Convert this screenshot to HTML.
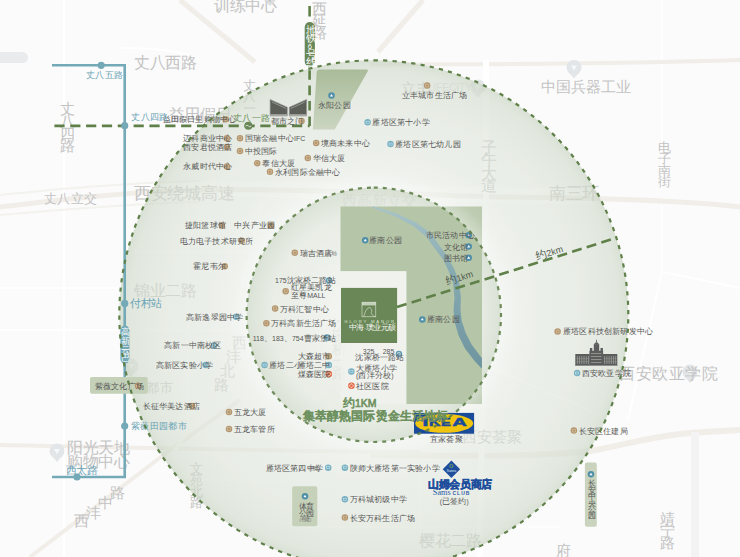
<!DOCTYPE html>
<html><head><meta charset="utf-8">
<style>
html,body{margin:0;padding:0;}
body{width:740px;height:557px;overflow:hidden;position:relative;background:#fbfbfb;font-family:"Liberation Sans",sans-serif;}
svg{position:absolute;left:0;top:0;}
.t{position:absolute;white-space:nowrap;}
.f{position:absolute;white-space:nowrap;color:#d6d6d6;}
</style></head>
<body>
<svg width="740" height="557" viewBox="0 0 740 557">
<rect width="740" height="557" fill="#fbfbfb"/>
<path d="M64 0 V557" fill="none" stroke="#ffffff" stroke-width="2"/>
<path d="M0 288 H120" fill="none" stroke="#ffffff" stroke-width="2"/>
<path d="M0 330 H118" fill="none" stroke="#ffffff" stroke-width="2"/>
<path d="M662 0 V190" fill="none" stroke="#ffffff" stroke-width="2"/>
<path d="M662 205 V272 L651 320 L628 420" fill="none" stroke="#ffffff" stroke-width="2"/>
<path d="M663 272 L740 288" fill="none" stroke="#ffffff" stroke-width="2"/>
<path d="M485 365 L600 415" fill="none" stroke="#ffffff" stroke-width="2"/>
<path d="M120 48 Q180 48 200 60" fill="none" stroke="#ffffff" stroke-width="2"/>
<path d="M140 191 C200 187 300 189 400 193 C480 195 560 196 594 197" fill="none" stroke="#ffffff" stroke-width="16" opacity="0.9"/>
<path d="M187.5 205 V440" fill="none" stroke="#ffffff" stroke-width="1.6"/>
<path d="M262 200 L231 335" fill="none" stroke="#ffffff" stroke-width="1.6"/>
<path d="M277 140 V175" fill="none" stroke="#ffffff" stroke-width="1.6"/>
<path d="M130 252 H250" fill="none" stroke="#ffffff" stroke-width="1.6"/>
<path d="M140 330 H245" fill="none" stroke="#ffffff" stroke-width="1.6"/>
<path d="M200 480 H300" fill="none" stroke="#ffffff" stroke-width="1.6"/>
<path d="M420 470 V530" fill="none" stroke="#ffffff" stroke-width="1.6"/>
<path d="M300 527 H560" fill="none" stroke="#ffffff" stroke-width="1.6"/>
<path d="M0 207 C60 200 120 192 200 190 C300 188 420 195 500 197 C600 198 680 200 740 207" fill="none" stroke="#f1eee9" stroke-width="5"/>
<path d="M0 195 C60 189 120 183 200 181" fill="none" stroke="#f4f2ee" stroke-width="2"/>
<path d="M0 215 C60 210 120 204 200 202" fill="none" stroke="#f4f2ee" stroke-width="2"/>
<path d="M370 64.5 C480 64 600 64.5 740 60" fill="none" stroke="#f1eee9" stroke-width="4"/>
<path d="M0 445 C60 446 110 447 150 448 C250 450 350 452 420 452" fill="none" stroke="#f1eee9" stroke-width="4"/>
<path d="M370 455 C450 456 540 457 590 451 C620 446 640 439 680 434 C700 432 720 431 740 430" fill="none" stroke="#f1eee9" stroke-width="6"/>
<path d="M486.5 200 L479.5 557" fill="none" stroke="#ffffff" stroke-width="6"/>
<path d="M695 432 V557" fill="none" stroke="#f3f3f3" stroke-width="8"/>
<path d="M30 557 L170 450 L240 400" fill="none" stroke="#f1eee9" stroke-width="4"/>
<path d="M180 0 L255 62" fill="none" stroke="#f1eee9" stroke-width="5"/>
<path d="M423 0 L378 52" fill="none" stroke="#f1eee9" stroke-width="5"/>
<path d="M228 372 L175 450" fill="none" stroke="#fbfbfa" stroke-width="4"/>
<path d="M486 60 V200" fill="none" stroke="#ffffff" stroke-width="6"/>
<circle cx="478" cy="87" r="7.5" fill="#e3e6e8"/><path d="M473.5 92.5 h9 l-4.5 5.5 z" fill="#e3e6e8"/>
<path d="M478 90 l-3 -5 h6 z" fill="#f7f8f9"/>
<circle cx="574" cy="67.6" r="7.5" fill="#e3e6e8"/><path d="M569.5 73.1 h9 l-4.5 5.5 z" fill="#e3e6e8"/>
<path d="M574 70.6 l-3 -5 h6 z" fill="#f7f8f9"/>
<circle cx="690" cy="372" r="7.5" fill="#e3e6e8"/><path d="M685.5 377.5 h9 l-4.5 5.5 z" fill="#e3e6e8"/>
<path d="M690 375 l-3 -5 h6 z" fill="#f7f8f9"/>
<circle cx="57" cy="451" r="7.5" fill="#e3e6e8"/><path d="M52.5 456.5 h9 l-4.5 5.5 z" fill="#e3e6e8"/>
<path d="M57 454 l-3 -5 h6 z" fill="#f7f8f9"/>
<circle cx="131" cy="366" r="7.5" fill="#e3e6e8"/><path d="M126.5 371.5 h9 l-4.5 5.5 z" fill="#e3e6e8"/>
<path d="M131 369 l-3 -5 h6 z" fill="#f7f8f9"/>
<rect x="-10" y="52" width="38" height="11" rx="5.5" fill="#e9ebec"/>
<path d="M264 0 H276 L270 6 Z" fill="#dcdee0"/>
</svg>
<div class="f" style="left:214px;top:-2px;font-size:16px;line-height:16px;color:#c3c3c3;letter-spacing:-0.5px;">训练中心</div>
<div class="f" style="left:134px;top:55px;font-size:16px;line-height:16px;color:#c3c3c3;letter-spacing:-0.5px;">丈八西路</div>
<div class="f" style="left:44px;top:192px;font-size:13.33px;line-height:13.33px;color:#c3c3c3;letter-spacing:0.3px;">丈八立交</div>
<div class="f" style="left:134px;top:185px;font-size:17.33px;line-height:17.33px;color:#c3c3c3;letter-spacing:-0.3px;">西安绕城高速</div>
<div class="f" style="left:134px;top:283px;font-size:16px;line-height:16px;color:#c3c3c3;letter-spacing:-0.3px;">锦业二路</div>
<div class="f" style="left:342px;top:194px;font-size:14.67px;line-height:14.67px;color:#c3c3c3;">西高新立交</div>
<div class="f" style="left:549px;top:185px;font-size:17.33px;line-height:17.33px;color:#c3c3c3;letter-spacing:-0.3px;">南三环</div>
<div class="f" style="left:401px;top:82px;font-size:14.67px;line-height:14.67px;color:#c3c3c3;">立丰</div>
<div class="f" style="left:428px;top:83px;font-size:10px;line-height:10px;color:#dadada">LIFECITY</div>
<div class="f" style="left:540.5px;top:80px;font-size:14.67px;line-height:14.67px;color:#c3c3c3;">中国兵器工业</div>
<div class="f" style="left:619px;top:366px;font-size:16px;line-height:16px;color:#c3c3c3;letter-spacing:0.5px;">西安欧亚学院</div>
<div class="f" style="left:67px;top:440px;font-size:16px;line-height:16px;color:#c3c3c3;letter-spacing:-0.5px;">阳光天地</div>
<div class="f" style="left:67px;top:454px;font-size:16px;line-height:16px;color:#c3c3c3;letter-spacing:-0.5px;">购物中心</div>
<div class="f" style="left:462px;top:430px;font-size:14.67px;line-height:14.67px;color:#c3c3c3;">西安荟聚</div>
<div class="f" style="left:419px;top:533px;font-size:16px;line-height:16px;color:#c3c3c3;letter-spacing:-0.5px;">樱花二路</div>
<div class="f" style="left:169px;top:107px;font-size:16px;line-height:16px;color:#c3c3c3;letter-spacing:-0.5px;">益田假日</div>
<div class="f" style="left:60px;top:102px;font-size:14.67px;line-height:14.67px;color:#c3c3c3;">丈</div>
<div class="f" style="left:60px;top:114px;font-size:14.67px;line-height:14.67px;color:#c3c3c3;">八</div>
<div class="f" style="left:60px;top:127px;font-size:14.67px;line-height:14.67px;color:#c3c3c3;">四</div>
<div class="f" style="left:60px;top:139px;font-size:14.67px;line-height:14.67px;color:#c3c3c3;">路</div>
<div class="f" style="left:481px;top:140px;font-size:16px;line-height:16px;color:#c3c3c3;">子</div>
<div class="f" style="left:481px;top:152px;font-size:16px;line-height:16px;color:#c3c3c3;">午</div>
<div class="f" style="left:481px;top:166px;font-size:16px;line-height:16px;color:#c3c3c3;">大</div>
<div class="f" style="left:481px;top:178px;font-size:16px;line-height:16px;color:#c3c3c3;">道</div>
<div class="f" style="left:658px;top:141px;font-size:13.33px;line-height:13.33px;color:#c3c3c3;">电</div>
<div class="f" style="left:658px;top:152px;font-size:13.33px;line-height:13.33px;color:#c3c3c3;">子</div>
<div class="f" style="left:658px;top:164px;font-size:13.33px;line-height:13.33px;color:#c3c3c3;">南</div>
<div class="f" style="left:658px;top:175px;font-size:13.33px;line-height:13.33px;color:#c3c3c3;">街</div>
<div class="f" style="left:332px;top:318px;font-size:14.67px;line-height:14.67px;color:#c3c3c3;">沈</div>
<div class="f" style="left:332px;top:330px;font-size:14.67px;line-height:14.67px;color:#c3c3c3;">家</div>
<div class="f" style="left:332px;top:342px;font-size:14.67px;line-height:14.67px;color:#c3c3c3;">桥</div>
<div class="f" style="left:332px;top:354px;font-size:14.67px;line-height:14.67px;color:#c3c3c3;">一</div>
<div class="f" style="left:332px;top:366px;font-size:14.67px;line-height:14.67px;color:#c3c3c3;">路</div>
<div class="f" style="left:190px;top:462px;font-size:13.33px;line-height:13.33px;color:#c3c3c3;">文</div>
<div class="f" style="left:190px;top:473px;font-size:13.33px;line-height:13.33px;color:#c3c3c3;">苑</div>
<div class="f" style="left:190px;top:485px;font-size:13.33px;line-height:13.33px;color:#c3c3c3;">北</div>
<div class="f" style="left:190px;top:496px;font-size:13.33px;line-height:13.33px;color:#c3c3c3;">路</div>
<div class="f" style="left:660px;top:512px;font-size:14.67px;line-height:14.67px;color:#c3c3c3;">靖</div>
<div class="f" style="left:660px;top:524px;font-size:14.67px;line-height:14.67px;color:#c3c3c3;">宁</div>
<div class="f" style="left:660px;top:536px;font-size:14.67px;line-height:14.67px;color:#c3c3c3;">路</div>
<div class="f" style="left:556px;top:544px;font-size:14.67px;line-height:14.67px;color:#c3c3c3;">府</div>
<div class="f" style="left:243px;top:79px;font-size:13.33px;line-height:13.33px;color:#c3c3c3;">丈</div>
<div class="f" style="left:243px;top:90px;font-size:13.33px;line-height:13.33px;color:#c3c3c3;">八</div>
<div class="f" style="left:243px;top:102px;font-size:13.33px;line-height:13.33px;color:#c3c3c3;">一</div>
<div class="f" style="left:232px;top:336px;font-size:14.67px;line-height:14.67px;color:#c3c3c3;">西</div>
<div class="f" style="left:226px;top:350px;font-size:14.67px;line-height:14.67px;color:#c3c3c3;">沣</div>
<div class="f" style="left:220px;top:364px;font-size:14.67px;line-height:14.67px;color:#c3c3c3;">北</div>
<div class="f" style="left:214px;top:378px;font-size:14.67px;line-height:14.67px;color:#c3c3c3;">路</div>
<div class="f" style="left:74px;top:514px;font-size:14.67px;line-height:14.67px;color:#c3c3c3;">西</div>
<div class="f" style="left:86px;top:506px;font-size:14.67px;line-height:14.67px;color:#c3c3c3;">沣</div>
<div class="f" style="left:98px;top:496px;font-size:14.67px;line-height:14.67px;color:#c3c3c3;">中</div>
<div class="f" style="left:110px;top:486px;font-size:14.67px;line-height:14.67px;color:#c3c3c3;">路</div>
<div class="f" style="left:146px;top:381px;font-size:13.33px;line-height:13.33px;color:#c3c3c3;letter-spacing:0.5px;">都市</div>
<div class="f" style="left:312px;top:2px;font-size:14.67px;line-height:14.67px;color:#c3c3c3;">西</div>
<div class="f" style="left:312px;top:14px;font-size:14.67px;line-height:14.67px;color:#c3c3c3;">延</div>
<div class="f" style="left:312px;top:26px;font-size:14.67px;line-height:14.67px;color:#c3c3c3;">路</div>
<svg width="740" height="557" viewBox="0 0 740 557">
<defs>
<radialGradient id="gO" cx="373.8" cy="314.8" r="254.5" gradientUnits="userSpaceOnUse">
<stop offset="0.5" stop-color="#e6ebe3" stop-opacity="0.6"/>
<stop offset="0.8" stop-color="#dde4d9" stop-opacity="0.6"/>
<stop offset="0.96" stop-color="#d3dcce" stop-opacity="0.64"/>
<stop offset="1" stop-color="#cad5c3" stop-opacity="0.7"/>
</radialGradient>
<radialGradient id="gI" cx="373.8" cy="314.8" r="127.2" gradientUnits="userSpaceOnUse">
<stop offset="0.3" stop-color="#f4f6f2" stop-opacity="0.5"/>
<stop offset="0.8" stop-color="#e3e9df" stop-opacity="0.5"/>
<stop offset="1" stop-color="#cfd9c9" stop-opacity="0.66"/>
</radialGradient>
<linearGradient id="gY" x1="0" y1="0" x2="0" y2="1">
<stop offset="0" stop-color="#a9bb99"/><stop offset="1" stop-color="#cbd5c1"/>
</linearGradient>
</defs>
<circle cx="373.8" cy="314.8" r="254.5" fill="url(#gO)"/>
<circle cx="373.8" cy="314.8" r="127.2" fill="url(#gI)"/>
<path d="M340.5 206.5 H482 V404 H406.3 V271.3 H340.5 Z" fill="#b5c5a8"/>
<rect x="340.5" y="271.3" width="65.8" height="132.7" fill="#f0f2ee" opacity="0.75"/>
<defs><linearGradient id="gR" x1="0" y1="206" x2="0" y2="366" gradientUnits="userSpaceOnUse"><stop offset="0" stop-color="#a9c4c7"/><stop offset="0.4" stop-color="#88abb2"/><stop offset="1" stop-color="#6f95a0"/></linearGradient><clipPath id="cpP"><rect x="340.5" y="206.5" width="141.5" height="197.5"/></clipPath></defs>
<path clip-path="url(#cpP)" d="M371.9 207.6 L396.0 216.8 L413.7 226.3 L426.6 237.2 L434.1 247.4 L443.1 259.5 L448.8 271.4 L453.1 283.1 L454.5 297.8 L453.5 310.0 L454.8 322.8 L458.7 335.7 L465.0 348.6 L474.6 361.1 L481.4 368.3 L486.6 363.7 L480.4 356.3 L471.6 344.4 L465.7 332.9 L461.8 321.2 L460.5 309.8 L460.9 297.6 L459.1 281.7 L454.2 269.0 L447.7 256.5 L438.5 244.2 L430.8 233.0 L416.1 222.5 L397.2 213.8 L372.5 205.8 Z" fill="url(#gR)"/>
<defs><radialGradient id="gG" cx="373.8" cy="314.8" r="254.5" gradientUnits="userSpaceOnUse"><stop offset="0.5" stop-color="#ffffff" stop-opacity="0.4"/><stop offset="0.56" stop-color="#ffffff" stop-opacity="0.12"/><stop offset="0.66" stop-color="#ffffff" stop-opacity="0"/></radialGradient></defs>
<path fill-rule="evenodd" fill="url(#gG)" d="M119.3 314.8 a254.5 254.5 0 1 0 509 0 a254.5 254.5 0 1 0 -509 0 Z M246.6 314.8 a127.2 127.2 0 1 0 254.4 0 a127.2 127.2 0 1 0 -254.4 0 Z"/>
<path d="M316.7 72 Q316.9 69.5 319.5 69.5 H366.5 Q368.6 69.8 367.6 71.5 L334.7 129.6 H312.9 Z" fill="url(#gY)"/>
<rect x="341" y="287.9" width="56.1" height="55.1" fill="#6a8757"/>
<rect x="362" y="302.2" width="13.8" height="14.6" fill="none" stroke="#e3eadb" stroke-width="0.6"/>
<rect x="362" y="302.2" width="13.8" height="3.2" fill="#e3eadb" opacity="0.75"/>
<path d="M363.8 316.5 C365 312 366 309 369 307.5 C371.5 308 372.5 310 371.2 312.6 C371.5 314 373 316 375 317" fill="none" stroke="#e3eadb" stroke-width="0.6"/>
<text x="344.3" y="323.1" font-family="Liberation Sans" font-size="4.3" fill="#dfe7d6" textLength="49.8" lengthAdjust="spacing">GLORY MANOR</text>
<line x1="397" y1="307" x2="614" y2="238.6" stroke="#5f8049" stroke-width="2.6" stroke-dasharray="10 5.3"/>
<path d="M309.6 126 V66" fill="none" stroke="#5f8049" stroke-width="2.6" stroke-dasharray="9.6 5.8"/>
<path d="M309.6 6 V16.5" fill="none" stroke="#5f8049" stroke-width="2.6"/>
<path d="M309.6 125.9 H53" fill="none" stroke="#5f8049" stroke-width="2.6" stroke-dasharray="10.2 5.64" stroke-dashoffset="8.44"/>
<rect x="304.7" y="22" width="10.2" height="44.7" rx="5.1" fill="#6a8757"/>
<circle cx="248.4" cy="125.7" r="4" fill="#6a8757"/>
<path d="M245.6 126 q1.4 -1.6 2.8 0 t2.8 0" fill="none" stroke="#fff" stroke-width="0.7"/>
<path d="M52 65.3 H124.7 V477 H52" fill="none" stroke="#74a9b7" stroke-width="2.6"/>
<circle cx="101.2" cy="65.3" r="3.6" fill="#74a9b7"/>
<circle cx="124.7" cy="125.7" r="3.6" fill="#74a9b7"/>
<circle cx="124.7" cy="303.4" r="3.6" fill="#74a9b7"/>
<circle cx="124.7" cy="426" r="3.6" fill="#74a9b7"/>
<circle cx="77" cy="477" r="3.6" fill="#74a9b7"/>
<rect x="120.4" y="325.6" width="9" height="37.9" rx="4.5" fill="#74a9b7"/>
<rect x="90" y="377" width="57.8" height="16.8" rx="2" fill="#c4d1b8"/>
<rect x="292.2" y="486.3" width="25.1" height="39.9" rx="2" fill="#c5d1b9"/>
<rect x="584.9" y="462.6" width="11.9" height="64.2" rx="2" fill="#c9d3be"/>
<rect x="414" y="412.9" width="60.1" height="20.8" fill="#1a4b9b"/>
<ellipse cx="444.2" cy="423.4" rx="29" ry="9.45" fill="#f1c40f"/>
<text x="422.6" y="426.4" font-family="Liberation Sans" font-weight="bold" font-size="10" fill="#1a4b9b" stroke="#1a4b9b" stroke-width="0.45" textLength="5.8" lengthAdjust="spacingAndGlyphs">I</text>
<text x="429.0" y="426.4" font-family="Liberation Sans" font-weight="bold" font-size="10" fill="#1a4b9b" stroke="#1a4b9b" stroke-width="0.45" textLength="11.6" lengthAdjust="spacingAndGlyphs">K</text>
<text x="441.0" y="426.4" font-family="Liberation Sans" font-weight="bold" font-size="10" fill="#1a4b9b" stroke="#1a4b9b" stroke-width="0.45" textLength="9.8" lengthAdjust="spacingAndGlyphs">E</text>
<text x="452.2" y="426.4" font-family="Liberation Sans" font-weight="bold" font-size="10" fill="#1a4b9b" stroke="#1a4b9b" stroke-width="0.45" textLength="14.6" lengthAdjust="spacingAndGlyphs">A</text>
<path d="M451.4 460.6 L460.1 469.2 L451.4 477.9 L442.7 469.2 Z" fill="#1f4f9c"/>
<circle cx="451.4" cy="466" r="1.6" fill="none" stroke="#9fc24a" stroke-width="0.6"/>
<text x="446.6" y="471.5" font-family="Liberation Serif" font-size="4" fill="#dfe8f5" textLength="9.5" lengthAdjust="spacingAndGlyphs">Sams</text>
<text x="432.8" y="495" font-family="Liberation Serif" font-size="8.2" fill="#2d5ca6" textLength="18" lengthAdjust="spacingAndGlyphs">Sams</text>
<text x="452.5" y="494.6" font-family="Liberation Sans" font-weight="bold" font-size="5" fill="#2d5ca6" textLength="16.9" lengthAdjust="spacing">CLUB</text>
<path d="M270.1 99.4 L287.3 107.2 V116 H270.1 Z" fill="#5b5f58" stroke="#9a9c98" stroke-width="0.7"/>
<path d="M306.6 99.4 L289.3 107.2 V116 H306.6 Z" fill="#5b5f58" stroke="#9a9c98" stroke-width="0.7"/>
<path d="M272 102 L286 108.5 M304.8 102 L290.8 108.5" stroke="#b8bab5" stroke-width="0.6"/>
<rect x="270.1" y="114.2" width="17.2" height="1.8" fill="#a8aaa6"/><rect x="289.3" y="114.2" width="17.3" height="1.8" fill="#a8aaa6"/>
<rect x="575.3" y="354" width="14.5" height="11.7" fill="#5a5d5b"/>
<rect x="602.8" y="354" width="14.5" height="11.7" fill="#5a5d5b"/>
<rect x="589.4" y="350.8" width="13.7" height="14.9" fill="#5a5d5b"/>
<rect x="593.8" y="344.2" width="5.4" height="6.8" fill="#5a5d5b"/>
<path d="M593.8 344.4 Q596.5 340 599.2 344.4 Z" fill="#5a5d5b"/><rect x="596.1" y="339.8" width="0.8" height="2.5" fill="#5a5d5b"/>
<rect x="589.9" y="348" width="2.4" height="3" fill="#5a5d5b"/><rect x="600.5" y="348" width="2.4" height="3" fill="#5a5d5b"/>
<rect x="577" y="356" width="0.8" height="8" fill="#9a9d9a"/>
<rect x="604.3" y="356" width="0.8" height="8" fill="#9a9d9a"/>
<rect x="579.2" y="356" width="0.8" height="8" fill="#9a9d9a"/>
<rect x="606.5" y="356" width="0.8" height="8" fill="#9a9d9a"/>
<rect x="581.4" y="356" width="0.8" height="8" fill="#9a9d9a"/>
<rect x="608.7" y="356" width="0.8" height="8" fill="#9a9d9a"/>
<rect x="583.6" y="356" width="0.8" height="8" fill="#9a9d9a"/>
<rect x="610.9" y="356" width="0.8" height="8" fill="#9a9d9a"/>
<rect x="585.8" y="356" width="0.8" height="8" fill="#9a9d9a"/>
<rect x="613.1" y="356" width="0.8" height="8" fill="#9a9d9a"/>
<rect x="588" y="356" width="0.8" height="8" fill="#9a9d9a"/>
<rect x="615.3" y="356" width="0.8" height="8" fill="#9a9d9a"/>
<rect x="591" y="353" width="10.5" height="0.7" fill="#a5a8a5"/>
<rect x="591" y="356" width="10.5" height="0.7" fill="#a5a8a5"/>
<rect x="591" y="359" width="10.5" height="0.7" fill="#a5a8a5"/>
<rect x="591" y="362" width="10.5" height="0.7" fill="#a5a8a5"/>
<rect x="576" y="358.5" width="13" height="0.6" fill="#8f928f"/><rect x="603.5" y="358.5" width="13" height="0.6" fill="#8f928f"/>
<rect x="576" y="361.5" width="13" height="0.6" fill="#8f928f"/><rect x="603.5" y="361.5" width="13" height="0.6" fill="#8f928f"/>
<rect x="575" y="365" width="42.6" height="0.8" fill="#8f928f"/>
<circle cx="225.6" cy="119.3" r="3.25" fill="#b49670"/>
<rect x="224.2" y="117.9" width="2.8" height="2.8" fill="none" stroke="#dccbaa" stroke-width="0.5"/>
<circle cx="226.8" cy="138.3" r="3.25" fill="#b49670"/>
<rect x="225.4" y="136.9" width="2.8" height="2.8" fill="none" stroke="#dccbaa" stroke-width="0.5"/>
<circle cx="226.8" cy="147.1" r="3.25" fill="#b49670"/>
<rect x="225.4" y="145.7" width="2.8" height="2.8" fill="none" stroke="#dccbaa" stroke-width="0.5"/>
<circle cx="226.8" cy="166.4" r="3.25" fill="#b49670"/>
<rect x="225.4" y="165" width="2.8" height="2.8" fill="none" stroke="#dccbaa" stroke-width="0.5"/>
<circle cx="240" cy="138.3" r="3.25" fill="#b49670"/>
<rect x="238.6" y="136.9" width="2.8" height="2.8" fill="none" stroke="#dccbaa" stroke-width="0.5"/>
<circle cx="240" cy="150.9" r="3.25" fill="#b49670"/>
<rect x="238.6" y="149.5" width="2.8" height="2.8" fill="none" stroke="#dccbaa" stroke-width="0.5"/>
<circle cx="257.2" cy="163.3" r="3.25" fill="#b49670"/>
<rect x="255.8" y="161.9" width="2.8" height="2.8" fill="none" stroke="#dccbaa" stroke-width="0.5"/>
<circle cx="270" cy="171.7" r="3.25" fill="#b49670"/>
<rect x="268.6" y="170.3" width="2.8" height="2.8" fill="none" stroke="#dccbaa" stroke-width="0.5"/>
<circle cx="301.5" cy="121.1" r="3.25" fill="#b49670"/>
<rect x="300.1" y="119.7" width="2.8" height="2.8" fill="none" stroke="#dccbaa" stroke-width="0.5"/>
<circle cx="316.2" cy="143" r="3.25" fill="#b49670"/>
<rect x="314.8" y="141.6" width="2.8" height="2.8" fill="none" stroke="#dccbaa" stroke-width="0.5"/>
<circle cx="307.8" cy="158" r="3.25" fill="#b49670"/>
<rect x="306.4" y="156.6" width="2.8" height="2.8" fill="none" stroke="#dccbaa" stroke-width="0.5"/>
<circle cx="427.1" cy="85.6" r="3.25" fill="#b49670"/>
<rect x="425.7" y="84.2" width="2.8" height="2.8" fill="none" stroke="#dccbaa" stroke-width="0.5"/>
<circle cx="367.6" cy="122.2" r="3.25" fill="#79b1c3"/>
<rect x="366" y="121.2" width="3.2" height="2" fill="none" stroke="#d5eaf0" stroke-width="0.5"/>
<circle cx="390.5" cy="144.1" r="3.25" fill="#79b1c3"/>
<rect x="388.9" y="143.1" width="3.2" height="2" fill="none" stroke="#d5eaf0" stroke-width="0.5"/>
<circle cx="221.9" cy="225.5" r="3.25" fill="#b49670"/>
<rect x="220.5" y="224.1" width="2.8" height="2.8" fill="none" stroke="#dccbaa" stroke-width="0.5"/>
<circle cx="271" cy="225.5" r="3.25" fill="#b49670"/>
<rect x="269.6" y="224.1" width="2.8" height="2.8" fill="none" stroke="#dccbaa" stroke-width="0.5"/>
<circle cx="241.7" cy="240.8" r="3.25" fill="#b49670"/>
<rect x="240.3" y="239.4" width="2.8" height="2.8" fill="none" stroke="#dccbaa" stroke-width="0.5"/>
<circle cx="224.7" cy="266.2" r="3.25" fill="#b49670"/>
<rect x="223.3" y="264.8" width="2.8" height="2.8" fill="none" stroke="#dccbaa" stroke-width="0.5"/>
<circle cx="236.2" cy="316.8" r="3.25" fill="#79b1c3"/>
<rect x="234.6" y="315.8" width="3.2" height="2" fill="none" stroke="#d5eaf0" stroke-width="0.5"/>
<circle cx="214" cy="345.5" r="3.25" fill="#79b1c3"/>
<rect x="212.4" y="344.5" width="3.2" height="2" fill="none" stroke="#d5eaf0" stroke-width="0.5"/>
<circle cx="205.6" cy="365.1" r="3.25" fill="#79b1c3"/>
<rect x="204" y="364.1" width="3.2" height="2" fill="none" stroke="#d5eaf0" stroke-width="0.5"/>
<circle cx="192" cy="405.9" r="3.25" fill="#b49670"/>
<rect x="190.6" y="404.5" width="2.8" height="2.8" fill="none" stroke="#dccbaa" stroke-width="0.5"/>
<circle cx="229" cy="412" r="3.25" fill="#b49670"/>
<rect x="227.6" y="410.6" width="2.8" height="2.8" fill="none" stroke="#dccbaa" stroke-width="0.5"/>
<circle cx="229" cy="428.9" r="3.25" fill="#b49670"/>
<rect x="227.6" y="427.5" width="2.8" height="2.8" fill="none" stroke="#dccbaa" stroke-width="0.5"/>
<circle cx="294.8" cy="252.7" r="3.25" fill="#b49670"/>
<rect x="293.4" y="251.3" width="2.8" height="2.8" fill="none" stroke="#dccbaa" stroke-width="0.5"/>
<circle cx="329.1" cy="280.4" r="3.25" fill="#5d9bb2"/>
<rect x="327.8" y="279.1" width="2.6" height="2.6" rx="0.5" fill="none" stroke="#fff" stroke-width="0.6"/>
<circle cx="285.7" cy="291.3" r="3.25" fill="#b49670"/>
<rect x="284.3" y="289.9" width="2.8" height="2.8" fill="none" stroke="#dccbaa" stroke-width="0.5"/>
<circle cx="275.1" cy="308.5" r="3.25" fill="#b49670"/>
<rect x="273.7" y="307.1" width="2.8" height="2.8" fill="none" stroke="#dccbaa" stroke-width="0.5"/>
<circle cx="266.4" cy="323.2" r="3.25" fill="#b49670"/>
<rect x="265" y="321.8" width="2.8" height="2.8" fill="none" stroke="#dccbaa" stroke-width="0.5"/>
<circle cx="327" cy="337.6" r="3.25" fill="#5d9bb2"/>
<rect x="325.7" y="336.3" width="2.6" height="2.6" rx="0.5" fill="none" stroke="#fff" stroke-width="0.6"/>
<circle cx="328.8" cy="356.2" r="3.25" fill="#b49670"/>
<rect x="327.4" y="354.8" width="2.8" height="2.8" fill="none" stroke="#dccbaa" stroke-width="0.5"/>
<circle cx="264.6" cy="365" r="3.25" fill="#79b1c3"/>
<rect x="263" y="364" width="3.2" height="2" fill="none" stroke="#d5eaf0" stroke-width="0.5"/>
<circle cx="328.8" cy="365" r="3.25" fill="#79b1c3"/>
<rect x="327.2" y="364" width="3.2" height="2" fill="none" stroke="#d5eaf0" stroke-width="0.5"/>
<circle cx="328.8" cy="374.1" r="3.25" fill="#e0623d"/>
<circle cx="328.8" cy="374.1" r="1.7" fill="none" stroke="#fbe0d6" stroke-width="0.6"/><path d="M328.8 371.4 v1.4 M328.8 376.8 v-1.4 M326.1 374.1 h1.4 M331.5 374.1 h-1.4" stroke="#fbe0d6" stroke-width="0.6"/>
<circle cx="398.9" cy="353.9" r="3.25" fill="#5d9bb2"/>
<rect x="397.6" y="352.6" width="2.6" height="2.6" rx="0.5" fill="none" stroke="#fff" stroke-width="0.6"/>
<circle cx="351.4" cy="371.5" r="3.25" fill="#79b1c3"/>
<rect x="349.8" y="370.5" width="3.2" height="2" fill="none" stroke="#d5eaf0" stroke-width="0.5"/>
<circle cx="351.4" cy="385.7" r="3.25" fill="#e0623d"/>
<circle cx="351.4" cy="385.7" r="1.7" fill="none" stroke="#fbe0d6" stroke-width="0.6"/><path d="M351.4 383 v1.4 M351.4 388.4 v-1.4 M348.7 385.7 h1.4 M354.1 385.7 h-1.4" stroke="#fbe0d6" stroke-width="0.6"/>
<circle cx="468.7" cy="235.2" r="3.25" fill="#4f8fa8"/>
<path d="M468.7 233.7 l1.5 2.4 h-3 z" fill="#fff"/>
<circle cx="468.7" cy="246.5" r="3.25" fill="#4f8fa8"/>
<path d="M468.7 245 l1.5 2.4 h-3 z" fill="#fff"/>
<circle cx="468.7" cy="257.8" r="3.25" fill="#4f8fa8"/>
<path d="M468.7 256.3 l1.5 2.4 h-3 z" fill="#fff"/>
<circle cx="365.2" cy="240.3" r="3.25" fill="#4f8fa8"/>
<path d="M365.2 238.8 l1.5 2.4 h-3 z" fill="#fff"/>
<circle cx="422.3" cy="319.4" r="3.25" fill="#4f8fa8"/>
<path d="M422.3 317.9 l1.5 2.4 h-3 z" fill="#fff"/>
<circle cx="331.5" cy="95.5" r="3.25" fill="#4f8fa8"/>
<path d="M331.5 94 l1.5 2.4 h-3 z" fill="#fff"/>
<circle cx="328.2" cy="467.7" r="3.25" fill="#79b1c3"/>
<rect x="326.6" y="466.7" width="3.2" height="2" fill="none" stroke="#d5eaf0" stroke-width="0.5"/>
<circle cx="344.9" cy="467.7" r="3.25" fill="#79b1c3"/>
<rect x="343.3" y="466.7" width="3.2" height="2" fill="none" stroke="#d5eaf0" stroke-width="0.5"/>
<circle cx="344.9" cy="499.3" r="3.25" fill="#79b1c3"/>
<rect x="343.3" y="498.3" width="3.2" height="2" fill="none" stroke="#d5eaf0" stroke-width="0.5"/>
<circle cx="344.9" cy="517.6" r="3.25" fill="#b49670"/>
<rect x="343.5" y="516.2" width="2.8" height="2.8" fill="none" stroke="#dccbaa" stroke-width="0.5"/>
<circle cx="573.9" cy="430.6" r="3.25" fill="#b49670"/>
<rect x="572.5" y="429.2" width="2.8" height="2.8" fill="none" stroke="#dccbaa" stroke-width="0.5"/>
<circle cx="557.6" cy="331.5" r="3.25" fill="#b49670"/>
<rect x="556.2" y="330.1" width="2.8" height="2.8" fill="none" stroke="#dccbaa" stroke-width="0.5"/>
<circle cx="577.1" cy="373" r="3.25" fill="#79b1c3"/>
<rect x="575.5" y="372" width="3.2" height="2" fill="none" stroke="#d5eaf0" stroke-width="0.5"/>
<circle cx="138" cy="385.8" r="3.25" fill="#b49670"/>
<rect x="136.6" y="384.4" width="2.8" height="2.8" fill="none" stroke="#dccbaa" stroke-width="0.5"/>
<circle cx="305" cy="496.3" r="3.25" fill="#4f8fa8"/>
<path d="M305 494.8 l1.5 2.4 h-3 z" fill="#fff"/>
<circle cx="591" cy="474.3" r="3.25" fill="#4f8fa8"/>
<path d="M591 472.8 l1.5 2.4 h-3 z" fill="#fff"/>
</svg>
<div class="t" style="left:348.9px;top:324px;font-size:8px;line-height:8px;color:#f4f6f0;letter-spacing:-0.5px;">中海<span style="font-size:5.78px;letter-spacing:0">·</span>璞业元硕</div>
<div class="t" style="left:306px;top:25px;font-size:10.67px;line-height:10.67px;color:#fff;">地</div>
<div class="t" style="left:306px;top:33px;font-size:10.67px;line-height:10.67px;color:#fff;">铁</div>
<div class="t" style="left:299.8px;top:43px;width:20px;text-align:center;font-size:7.6px;line-height:7.6px;color:#fff;">6</div>
<div class="t" style="left:306px;top:49px;font-size:10.67px;line-height:10.67px;color:#fff;">号</div>
<div class="t" style="left:306px;top:57px;font-size:10.67px;line-height:10.67px;color:#fff;">线</div>
<div class="t" style="left:121px;top:328px;font-size:9.33px;line-height:9.33px;color:#fff;">高</div>
<div class="t" style="left:121px;top:337px;font-size:9.33px;line-height:9.33px;color:#fff;">新</div>
<div class="t" style="left:121px;top:346px;font-size:9.33px;line-height:9.33px;color:#fff;">云</div>
<div class="t" style="left:121px;top:354px;font-size:9.33px;line-height:9.33px;color:#fff;">巴</div>
<div class="t" style="left:427.9px;top:479px;font-size:10.67px;line-height:10.67px;color:#1f4f9c;letter-spacing:-0.31px;font-weight:bold;-webkit-text-stroke:0.5px #1f4f9c;">山姆会员商店</div>
<div class="t" style="left:439.7px;top:498px;font-size:8px;line-height:8px;color:#555;letter-spacing:0.2px;"><span style="font-size:6.5px;letter-spacing:0">(</span>已签约<span style="font-size:6.5px;letter-spacing:0">)</span></div>
<div class="t" style="left:162.7px;top:116px;font-size:8px;line-height:8px;color:#565656;letter-spacing:0.2px;">益田假日里购物中心</div>
<div class="t" style="left:183.3px;top:135px;font-size:8px;line-height:8px;color:#565656;letter-spacing:0.2px;">迈科商业中心</div>
<div class="t" style="left:183.3px;top:144px;font-size:8px;line-height:8px;color:#565656;letter-spacing:0.2px;">西安君悦酒店</div>
<div class="t" style="left:183.3px;top:163px;font-size:8px;line-height:8px;color:#565656;letter-spacing:0.2px;">永威时代中心</div>
<div class="t" style="left:244.8px;top:135px;font-size:8px;line-height:8px;color:#565656;letter-spacing:0.2px;">国瑞金融中心<span style="font-size:7px;letter-spacing:0">IFC</span></div>
<div class="t" style="left:244.8px;top:148px;font-size:8px;line-height:8px;color:#565656;letter-spacing:0.2px;">中投国际</div>
<div class="t" style="left:262.4px;top:160px;font-size:8px;line-height:8px;color:#565656;letter-spacing:0.2px;">泰信大厦</div>
<div class="t" style="left:275px;top:169px;font-size:8px;line-height:8px;color:#565656;letter-spacing:0.2px;">永利国际金融中心</div>
<div class="t" style="left:270.8px;top:118px;font-size:8px;line-height:8px;color:#565656;letter-spacing:0.2px;">都市之门</div>
<div class="t" style="left:320.9px;top:140px;font-size:8px;line-height:8px;color:#565656;letter-spacing:0.2px;">境商未来中心</div>
<div class="t" style="left:312.6px;top:155px;font-size:8px;line-height:8px;color:#565656;letter-spacing:0.2px;">华信大厦</div>
<div class="t" style="left:401.8px;top:92px;font-size:8px;line-height:8px;color:#565656;letter-spacing:0.2px;">立丰城市生活广场</div>
<div class="t" style="left:372.4px;top:119px;font-size:8px;line-height:8px;color:#565656;letter-spacing:0.2px;">雁塔区第十小学</div>
<div class="t" style="left:395.2px;top:141px;font-size:8px;line-height:8px;color:#565656;letter-spacing:0.2px;">雁塔区第七幼儿园</div>
<div class="t" style="left:185px;top:222px;font-size:8px;line-height:8px;color:#565656;letter-spacing:0.2px;">捷阳篮球馆</div>
<div class="t" style="left:234.2px;top:222px;font-size:8px;line-height:8px;color:#565656;letter-spacing:0.2px;">中兴产业园</div>
<div class="t" style="left:179.7px;top:238px;font-size:8px;line-height:8px;color:#565656;letter-spacing:0.2px;">电力电子技术研究所</div>
<div class="t" style="left:193.3px;top:263px;font-size:8px;line-height:8px;color:#565656;letter-spacing:0.2px;">霍尼韦尔</div>
<div class="t" style="left:186.1px;top:314px;font-size:8px;line-height:8px;color:#565656;letter-spacing:0.2px;">高新逸翠园中学</div>
<div class="t" style="left:164.3px;top:342px;font-size:8px;line-height:8px;color:#565656;letter-spacing:0.2px;">高新一中南校区</div>
<div class="t" style="left:155.9px;top:362px;font-size:8px;line-height:8px;color:#565656;letter-spacing:0.2px;">高新区实验小学</div>
<div class="t" style="left:142.7px;top:403px;font-size:8px;line-height:8px;color:#565656;letter-spacing:0.2px;">长征华美达酒店</div>
<div class="t" style="left:233.9px;top:409px;font-size:8px;line-height:8px;color:#565656;letter-spacing:0.2px;">五龙大厦</div>
<div class="t" style="left:233.9px;top:426px;font-size:8px;line-height:8px;color:#565656;letter-spacing:0.2px;">五龙车管所</div>
<div class="t" style="left:299.6px;top:250px;font-size:8px;line-height:8px;color:#565656;letter-spacing:0.2px;">瑞吉酒店</div>
<div class="t" style="left:275px;top:277px;font-size:8px;line-height:8px;color:#565656;letter-spacing:0.2px;"><span style="font-size:7px;letter-spacing:0">175</span>沈家桥二路站</div>
<div class="t" style="left:290.8px;top:284px;font-size:8px;line-height:8px;color:#565656;letter-spacing:0.2px;">红星美凯龙</div>
<div class="t" style="left:290.8px;top:292px;font-size:8px;line-height:8px;color:#565656;letter-spacing:0.2px;">至尊<span style="font-size:7px;letter-spacing:0">MALL</span></div>
<div class="t" style="left:279.8px;top:306px;font-size:8px;line-height:8px;color:#565656;letter-spacing:0.2px;">万科汇智中心</div>
<div class="t" style="left:271px;top:320px;font-size:8px;line-height:8px;color:#565656;letter-spacing:0.2px;">万科高新生活广场</div>
<div class="t" style="left:252.7px;top:335px;font-size:8px;line-height:8px;color:#565656;letter-spacing:0.2px;"><span style="font-size:7px;letter-spacing:0">118</span>、<span style="font-size:7px;letter-spacing:0">183</span>、<span style="font-size:7px;letter-spacing:0">754</span>曹家堡站</div>
<div class="t" style="left:297.9px;top:353px;font-size:8px;line-height:8px;color:#565656;letter-spacing:0.2px;">大森超市</div>
<div class="t" style="left:269.2px;top:362px;font-size:8px;line-height:8px;color:#565656;letter-spacing:0.2px;">雁塔二小</div>
<div class="t" style="left:297.9px;top:362px;font-size:8px;line-height:8px;color:#565656;letter-spacing:0.2px;">雁塔二中</div>
<div class="t" style="left:297.9px;top:371px;font-size:8px;line-height:8px;color:#565656;letter-spacing:0.2px;">煤森医院</div>
<div class="t" style="left:362.8px;top:348px;font-size:8px;line-height:8px;color:#565656;letter-spacing:0.2px;"><span style="font-size:7px;letter-spacing:0">325</span>、<span style="font-size:7px;letter-spacing:0">285</span></div>
<div class="t" style="left:355.4px;top:354px;font-size:8px;line-height:8px;color:#565656;letter-spacing:0.2px;">沈家桥一路站</div>
<div class="t" style="left:356px;top:365px;font-size:8px;line-height:8px;color:#565656;letter-spacing:0.2px;">大雁塔小学</div>
<div class="t" style="left:356px;top:372px;font-size:8px;line-height:8px;color:#565656;letter-spacing:0.2px;"><span style="font-size:7px;letter-spacing:0">(</span>西沣分校<span style="font-size:7px;letter-spacing:0">)</span></div>
<div class="t" style="left:356px;top:383px;font-size:8px;line-height:8px;color:#565656;letter-spacing:0.2px;">社区医院</div>
<div class="t" style="left:425.8px;top:232px;font-size:8px;line-height:8px;color:#565656;letter-spacing:0.2px;">市民活动中心</div>
<div class="t" style="left:443.9px;top:244px;font-size:8px;line-height:8px;color:#565656;letter-spacing:0.2px;">文化馆</div>
<div class="t" style="left:443.9px;top:255px;font-size:8px;line-height:8px;color:#565656;letter-spacing:0.2px;">图书馆</div>
<div class="t" style="left:369.3px;top:237px;font-size:8px;line-height:8px;color:#565656;letter-spacing:0.2px;">雁南公园</div>
<div class="t" style="left:427px;top:316px;font-size:8px;line-height:8px;color:#565656;letter-spacing:0.2px;">雁南公园</div>
<div class="t" style="left:318px;top:102px;font-size:8px;line-height:8px;color:#565656;letter-spacing:0.2px;">永阳公园</div>
<div class="t" style="left:430px;top:436px;font-size:8px;line-height:8px;color:#565656;letter-spacing:0.2px;">宜家荟聚</div>
<div class="t" style="left:265.7px;top:465px;font-size:8px;line-height:8px;color:#565656;letter-spacing:0.2px;">雁塔区第四中学</div>
<div class="t" style="left:349.7px;top:465px;font-size:8px;line-height:8px;color:#565656;letter-spacing:0.2px;">陕师大雁塔第一实验小学</div>
<div class="t" style="left:349.7px;top:496px;font-size:8px;line-height:8px;color:#565656;letter-spacing:0.2px;">万科城初级中学</div>
<div class="t" style="left:349.7px;top:515px;font-size:8px;line-height:8px;color:#565656;letter-spacing:0.2px;">长安万科生活广场</div>
<div class="t" style="left:578.7px;top:428px;font-size:8px;line-height:8px;color:#565656;letter-spacing:0.2px;">长安区住建局</div>
<div class="t" style="left:563px;top:328px;font-size:8px;line-height:8px;color:#565656;letter-spacing:0.2px;">雁塔区科技创新研发中心</div>
<div class="t" style="left:581.9px;top:370px;font-size:8px;line-height:8px;color:#565656;letter-spacing:0.2px;">西安欧亚学院</div>
<div class="t" style="left:94.9px;top:383px;font-size:8px;line-height:8px;color:#565656;letter-spacing:0.2px;">紫薇文化广场</div>
<div class="t" style="left:325px;top:251px;font-size:5.33px;line-height:5.33px;color:#666;letter-spacing:-0.4px;"><span style="font-size:4px;letter-spacing:0">(</span>规划<span style="font-size:4px;letter-spacing:0">)</span></div>
<div class="t" style="left:308.5px;top:466px;font-size:5.33px;line-height:5.33px;color:#666;letter-spacing:-0.4px;"><span style="font-size:4px;letter-spacing:0">(</span>在建<span style="font-size:4px;letter-spacing:0">)</span></div>
<div class="t" style="left:86.1px;top:71px;font-size:9.33px;line-height:9.33px;color:#6aa3b5;letter-spacing:0.31px;">丈八五路</div>
<div class="t" style="left:131.3px;top:113px;font-size:9.33px;line-height:9.33px;color:#6aa3b5;letter-spacing:0.21px;">丈八四路</div>
<div class="t" style="left:130.4px;top:298px;font-size:10.67px;line-height:10.67px;color:#6aa3b5;letter-spacing:-0.48px;">付村站</div>
<div class="t" style="left:130.7px;top:422px;font-size:9.33px;line-height:9.33px;color:#6aa3b5;letter-spacing:0.41px;">紫薇田园都市</div>
<div class="t" style="left:65.6px;top:465px;font-size:10.67px;line-height:10.67px;color:#6aa3b5;letter-spacing:-0.48px;">西太路</div>
<div class="t" style="left:233px;top:114px;font-size:9.33px;line-height:9.33px;color:#6b8f58;letter-spacing:0.31px;">丈八一路</div>
<div class="t" style="left:342.8px;top:397px;font-size:12px;line-height:12px;color:#6e9160;letter-spacing:0.1px;-webkit-text-stroke:0.6px #6e9160;">约<span style="font-size:10.5px;letter-spacing:0">1KM</span></div>
<div class="t" style="left:303px;top:410px;font-size:12px;line-height:12px;color:#6e9160;letter-spacing:0.1px;-webkit-text-stroke:0.8px #6e9160;">集萃醇熟国际烫金生活地标</div>
<div class="t" style="left:446px;top:276px;font-size:11px;line-height:11px;color:#4f5a4c;transform:rotate(-17deg);transform-origin:0 50%">约<span style="font-size:9px">1km</span></div>
<div class="t" style="left:536px;top:251px;font-size:11px;line-height:11px;color:#4f5a4c;transform:rotate(-17deg);transform-origin:0 50%">约<span style="font-size:9px">2km</span></div>
<div class="t" style="left:298.5px;top:503px;font-size:8px;line-height:8px;color:#565656;letter-spacing:-0.4px;">体育</div>
<div class="t" style="left:298.5px;top:510px;font-size:8px;line-height:8px;color:#565656;letter-spacing:-0.4px;">公园</div>
<div class="t" style="left:299.5px;top:517px;font-size:5.33px;line-height:5.33px;color:#666;letter-spacing:-0.4px;"><span style="font-size:4px;letter-spacing:0">(</span>在建<span style="font-size:4px;letter-spacing:0">)</span></div>
<div class="t" style="left:588px;top:480px;font-size:8px;line-height:8px;color:#565656;">长</div>
<div class="t" style="left:588px;top:487px;font-size:8px;line-height:8px;color:#565656;">安</div>
<div class="t" style="left:588px;top:493px;font-size:8px;line-height:8px;color:#565656;">中</div>
<div class="t" style="left:588px;top:500px;font-size:8px;line-height:8px;color:#565656;">央</div>
<div class="t" style="left:588px;top:506px;font-size:8px;line-height:8px;color:#565656;">公</div>
<div class="t" style="left:588px;top:512px;font-size:8px;line-height:8px;color:#565656;">园</div>
<svg width="740" height="557" viewBox="0 0 740 557">
<path d="M373.8 60.3 A254.5 254.5 0 1 1 373.8 569.3 A254.5 254.5 0 1 1 373.8 60.3" fill="none" stroke="#5f8049" stroke-width="2.2" stroke-dasharray="4.2 5.2" stroke-opacity="1"/>
<path d="M373.8 187.6 A127.2 127.2 0 1 1 373.8 442 A127.2 127.2 0 1 1 373.8 187.6" fill="none" stroke="#5f8049" stroke-width="2.2" stroke-dasharray="4.0 5.0" stroke-opacity="0.9"/>
</svg>

</body></html>
